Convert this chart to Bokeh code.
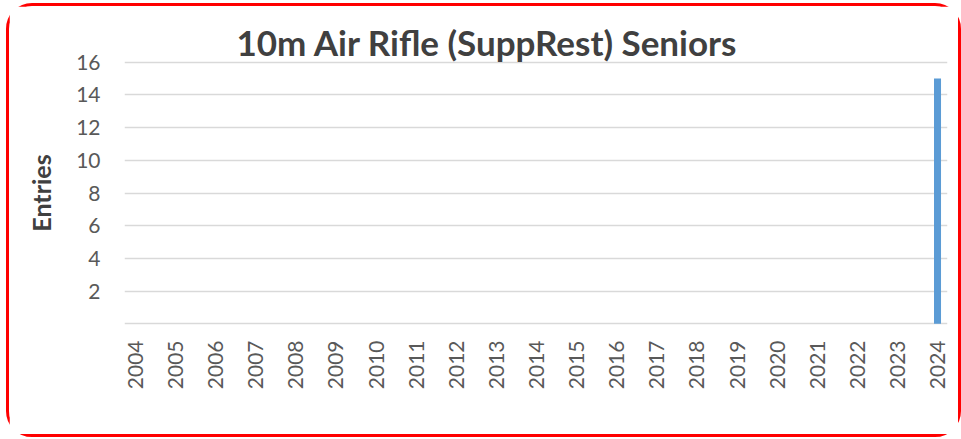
import math
from bokeh.plotting import figure
from bokeh.models import Range1d, FixedTicker, ColumnDataSource
from bokeh.embed import file_html
from bokeh.resources import INLINE

years = list(range(2004, 2025))
entries = [0] * 20 + [15]
y_ticks = [0, 2, 4, 6, 8, 10, 12, 14, 16]
title_text = "10m Air Rifle (SuppRest) Seniors"
y_label = "Entries"

src = ColumnDataSource(data=dict(year=years, entries=entries))

p = figure(width=955, height=434, output_backend="svg", toolbar_location=None,
           x_range=Range1d(2003.726, 2024.249), y_range=Range1d(-0.1, 16.1),
           min_border_left=115, min_border_right=17, min_border_top=54, min_border_bottom=115,
           title=title_text)
p.styles = {"border": "3px solid #FF0000", "border-radius": "26px",
            "margin-left": "6px", "margin-top": "3px"}
p.outline_line_color = None
p.background_fill_color = "white"
p.border_fill_color = "white"

p.vbar(x="year", top="entries", width=0.175, bottom=0, source=src,
       fill_color="#5B9BD5", line_color=None)

p.title.text_font = "Lato"
p.title.text_font_size = "35px"
p.title.text_font_style = "bold"
p.title.text_color = "#404040"
p.title.align = "left"
p.title.offset = 112
p.title.standoff = -4

p.xgrid.grid_line_color = None
p.ygrid.grid_line_color = "#D9D9D9"
p.ygrid.grid_line_width = 1.5

p.yaxis.ticker = FixedTicker(ticks=y_ticks)
p.yaxis.major_label_overrides = {0: ""}
p.xaxis.ticker = FixedTicker(ticks=years)
p.xaxis.major_label_orientation = math.pi / 2

for ax in (p.xaxis[0], p.yaxis[0]):
    ax.axis_line_color = None
    ax.major_tick_line_color = None
    ax.minor_tick_line_color = None
    ax.major_tick_out = 0
    ax.major_tick_in = 0
    ax.minor_tick_out = 0
    ax.minor_tick_in = 0
    ax.major_label_text_font = "Lato"
    ax.major_label_text_font_size = "21px"
    ax.major_label_text_color = "#595959"

p.yaxis.major_label_standoff = 24
p.xaxis.major_label_standoff = 15
p.yaxis.axis_label = y_label
p.yaxis.axis_label_text_font = "Lato"
p.yaxis.axis_label_text_font_size = "25px"
p.yaxis.axis_label_text_font_style = "bold"
p.yaxis.axis_label_text_color = "#404040"
p.yaxis.axis_label_standoff = 17

open("out.html", "w").write(file_html(p, INLINE))
